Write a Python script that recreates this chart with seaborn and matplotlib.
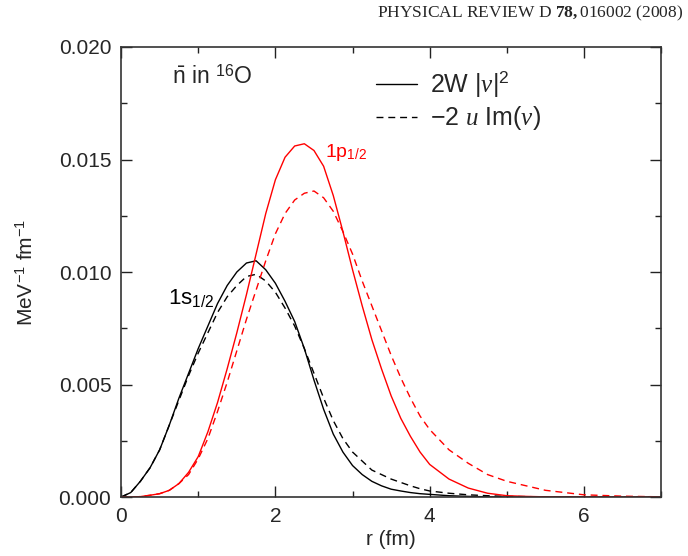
import numpy as np
import pandas as pd
import seaborn as sns
import matplotlib.pyplot as plt
from matplotlib import ticker
from matplotlib.lines import Line2D

# radius grid (fm) and densities (MeV^-1 fm^-1)
r = [0, 0.125, 0.25, 0.375, 0.5, 0.625, 0.75, 0.875, 1.0, 1.125, 1.25, 1.375, 1.5,
     1.625, 1.75, 1.875, 2.0, 2.125, 2.25, 2.375, 2.5, 2.625, 2.75, 2.875, 3.0,
     3.125, 3.25, 3.375, 3.5, 3.625, 3.75, 3.875, 4.0,
     4.25, 4.5, 4.75, 5.0, 5.25, 5.5, 5.75, 6.0, 6.5, 7.0]

# 1s1/2, 2W|v|^2 (solid) and -2u Im(v) (dashed)
s_w = [0, 0.0002, 0.0007, 0.0013, 0.0021, 0.0032, 0.0044, 0.0055, 0.0066, 0.0076,
       0.0086, 0.0094, 0.0100, 0.0104, 0.0105, 0.0101, 0.0095, 0.0087, 0.0078,
       0.0066, 0.0052, 0.0039, 0.0028, 0.0020, 0.0014, 0.0010, 0.0007, 0.0005,
       0.00035, 0.00027, 0.0002, 0.00015, 0.00012,
       0.00006, 0.00003, 0.00001, 0, 0, 0, 0, 0, 0, 0]
s_im = [0, 0.0002, 0.0007, 0.0013, 0.0021, 0.0032, 0.0043, 0.0054, 0.0064, 0.0073,
        0.0082, 0.0089, 0.0094, 0.0098, 0.0099, 0.0096, 0.0091, 0.0084, 0.0076,
        0.0066, 0.0055, 0.0044, 0.0034, 0.0026, 0.0020, 0.0016, 0.0012, 0.0010,
        0.0008, 0.00065, 0.0005, 0.00037, 0.00027,
        0.00017, 0.0001, 0.00006, 0.00003, 0.00002, 0.00001, 0, 0, 0, 0]
# 1p1/2
p_w = [0, 0, 0.00002, 0.00008, 0.00015, 0.0003, 0.0006, 0.0011, 0.0018, 0.0029,
       0.0042, 0.0057, 0.0073, 0.0090, 0.0108, 0.0126, 0.0141, 0.0151, 0.0156,
       0.0157, 0.0154, 0.0147, 0.0134, 0.0118, 0.0101, 0.0085, 0.0070, 0.0057,
       0.0045, 0.0035, 0.0027, 0.0020, 0.00145,
       0.0008, 0.0004, 0.00017, 0.00006, 0.00003, 0.00001, 0, 0, 0, 0]
p_im = [0, 0, 0.00002, 0.00008, 0.00015, 0.0003, 0.0006, 0.0010, 0.0017, 0.0026,
        0.0038, 0.0051, 0.0065, 0.0079, 0.0092, 0.0105, 0.0117, 0.0126, 0.0132,
        0.0135, 0.0136, 0.0133, 0.0127, 0.0118, 0.0108, 0.0096, 0.0085, 0.0074,
        0.0063, 0.0053, 0.0044, 0.0036, 0.0030,
        0.0021, 0.0015, 0.0010, 0.0007, 0.0005, 0.0003, 0.0002, 0.0001, 0.00004, 0.00001]

df = pd.DataFrame({'r': r, 's_w': s_w, 's_im': s_im, 'p_w': p_w, 'p_im': p_im})

sns.set_style('ticks')
plt.rcParams['font.family'] = ['Liberation Sans', 'DejaVu Sans']
plt.rcParams['mathtext.fontset'] = 'custom'
plt.rcParams['mathtext.rm'] = 'Liberation Sans'
plt.rcParams['mathtext.it'] = 'Liberation Serif:italic'
plt.rcParams['mathtext.bf'] = 'Liberation Serif:bold'
plt.rcParams['lines.solid_joinstyle'] = 'round'

fig = plt.figure(figsize=(6.88, 5.56), dpi=100)
ax = fig.add_axes([0.176, 0.106, 0.785, 0.8095])

dash = (5, 3.5)
sns.lineplot(data=df, x='r', y='s_w', color='black', lw=1.0, ax=ax)
sns.lineplot(data=df, x='r', y='s_im', color='black', lw=1.0, ax=ax).lines[-1].set_dashes(dash)
sns.lineplot(data=df, x='r', y='p_w', color='red', lw=1.0, ax=ax)
sns.lineplot(data=df, x='r', y='p_im', color='red', lw=1.0, ax=ax).lines[-1].set_dashes(dash)

ax.set_xlim(0, 7)
ax.set_ylim(0, 0.020)
ax.xaxis.set_major_locator(ticker.MultipleLocator(2))
ax.xaxis.set_minor_locator(ticker.MultipleLocator(1))
ax.yaxis.set_major_locator(ticker.MultipleLocator(0.005))
ax.yaxis.set_minor_locator(ticker.MultipleLocator(0.0025))
ax.yaxis.set_major_formatter(ticker.FormatStrFormatter('%.3f'))
ax.tick_params(which='both', direction='in', top=True, right=True, labelsize=15, color='#222')
ax.tick_params(which='major', length=8, width=1.0, pad=7)
ax.tick_params(which='minor', length=4, width=1.0)
for sp in ax.spines.values():
    sp.set_visible(True)
    sp.set_linewidth(1.2)
    sp.set_color('#333')

ax.set_xlabel('r (fm)', fontsize=15, labelpad=3)
ax.set_ylabel(r'MeV$^{-1}$ fm$^{-1}$', fontsize=15, labelpad=16)

ax.text(0.095, 0.96, r'$\bar{\mathrm{n}}$ in $^{16}$O', transform=ax.transAxes,
        fontsize=16.5, va='top', ha='left')
ax.text(0.087, 0.43, r'1s$_{1/2}$', transform=ax.transAxes, fontsize=16, color='black')
ax.text(0.378, 0.755, r'1p$_{1/2}$', transform=ax.transAxes, fontsize=14, color='red')

handles = [Line2D([], [], color='black', lw=1.0),
           Line2D([], [], color='black', lw=1.0, dashes=dash)]
ax.legend(handles, [r'2W $|\mathit{v}|^2$', r'$-$2 $\mathit{u}$ Im($\mathit{v}$)'],
          loc='upper left', bbox_to_anchor=(0.43, 1.0), frameon=False,
          fontsize=18, handlelength=1.65, handletextpad=0.5, labelspacing=0.2)

fig.text(0.993, 0.993, r'PHYSICAL REVIEW D $\mathbf{78,}$016002 (2008)', ha='right', va='top',
         fontsize=12.5, family='Liberation Serif')

fig.savefig('out.png', dpi=100)
